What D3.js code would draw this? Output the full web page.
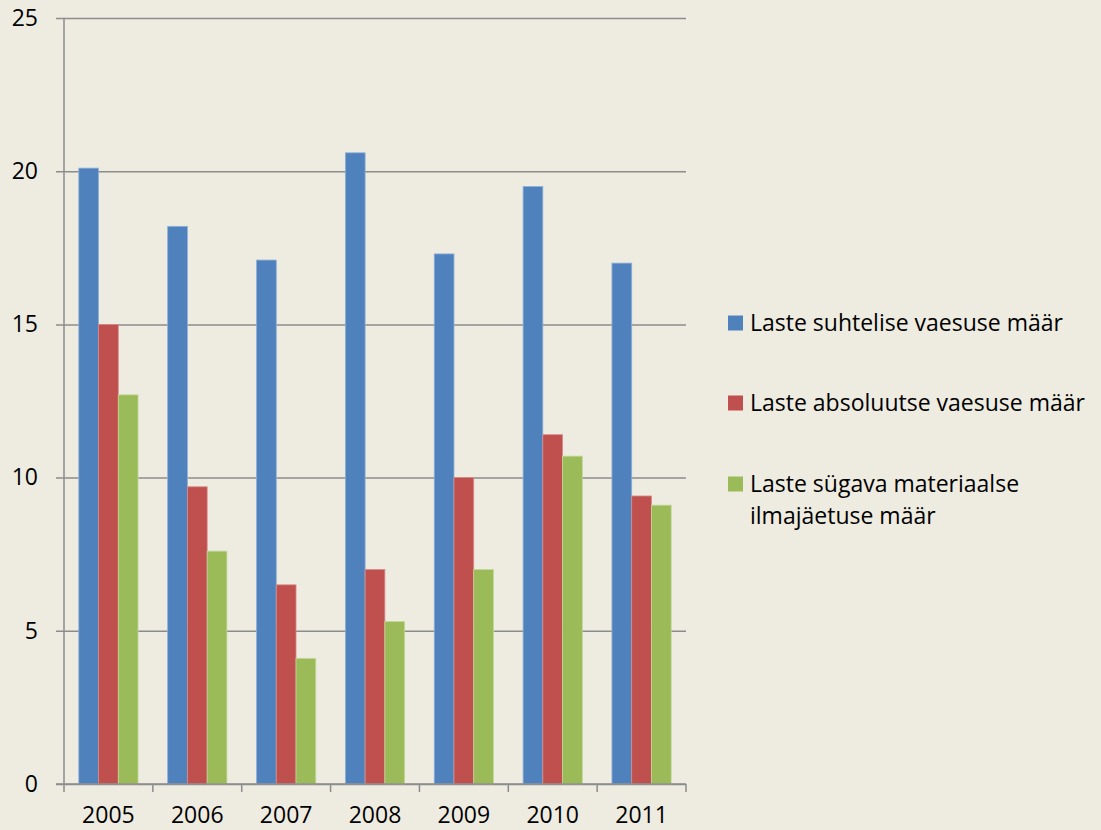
<!DOCTYPE html>
<html>
<head>
<meta charset="utf-8">
<script src="https://cdn.jsdelivr.net/npm/d3@7"></script>
<style>
  html, body { margin: 0; padding: 0; background: #eeebe0; }
  svg { display: block; font-family: "Open Sans", sans-serif; }
</style>
</head>
<body>
<div id="chart"></div>
<script>
const years = ["2005", "2006", "2007", "2008", "2009", "2010", "2011"];
const seriesNames = [
  "Laste suhtelise vaesuse määr",
  "Laste absoluutse vaesuse määr",
  "Laste sügava materiaalse ilmajäetuse määr"
];
const relative = [20.1, 18.2, 17.1, 20.6, 17.3, 19.5, 17.0];
const absolute = [15.0, 9.7, 6.5, 7.0, 10.0, 11.4, 9.4];
const deprivation = [12.7, 7.6, 4.1, 5.3, 7.0, 10.7, 9.1];
const yTicks = [0, 5, 10, 15, 20, 25];

const colors = ["#4f81bd", "#c0504d", "#9bbb59"];
const strokes = ["#8fb0d8", "#d88c8a", "#c2d79a"];

const width = 1101, height = 830;
const margin = { top: 18, right: 415, bottom: 46, left: 64 };
const plotW = width - margin.left - margin.right;
const plotH = height - margin.top - margin.bottom;

const svg = d3.select("#chart")
  .append("svg")
    .attr("width", width)
    .attr("height", height);

svg.append("rect")
  .attr("width", width)
  .attr("height", height)
  .attr("fill", "#eeebe0");

const g = svg.append("g")
  .attr("transform", "translate(" + margin.left + "," + margin.top + ")");

const x = d3.scaleBand()
  .domain(years)
  .range([0, plotW])
  .paddingInner(1 / 3)
  .paddingOuter(1 / 6);

const xSub = d3.scaleBand()
  .domain(d3.range(3))
  .range([0, x.bandwidth()]);

const y = d3.scaleLinear()
  .domain([0, 25])
  .range([plotH, 0]);

// gridlines with outward ticks
g.append("g")
  .call(d3.axisLeft(y).tickValues(yTicks).tickSize(-plotW).tickSizeOuter(0).tickFormat(""))
  .call(s => s.select(".domain").remove())
  .call(s => s.selectAll("line").attr("stroke", "#8c8c8c").attr("stroke-width", 1.5).attr("x1", -8).attr("x2", plotW));

// y labels
g.append("g")
  .call(d3.axisLeft(y).tickValues(yTicks).tickSize(0).tickPadding(26))
  .call(s => s.select(".domain").remove())
  .call(s => s.selectAll("text")
    .attr("fill", "#000")
    .style("font-size", "23px")
    .style("font-family", "'Open Sans', sans-serif"));

// bars
const data = [relative, absolute, deprivation];
const groups = g.selectAll(".year")
  .data(years)
  .enter()
  .append("g")
    .attr("transform", d => "translate(" + x(d) + ",0)");

groups.selectAll("rect")
  .data((d, i) => data.map((s, k) => ({ k: k, v: s[i] })))
  .enter()
  .append("rect")
    .attr("x", d => xSub(d.k))
    .attr("width", xSub.bandwidth())
    .attr("y", d => y(d.v))
    .attr("height", d => plotH - y(d.v))
    .attr("fill", d => colors[d.k])
    .attr("stroke", d => strokes[d.k])
    .attr("stroke-width", 0.8);

// left vertical axis line
g.append("line")
  .attr("x1", 0).attr("x2", 0)
  .attr("y1", 0).attr("y2", plotH)
  .attr("stroke", "#8c8c8c")
  .attr("stroke-width", 1.5);

// x axis
const xAxisG = g.append("g")
  .attr("transform", "translate(0," + plotH + ")");

xAxisG.append("line")
  .attr("x1", -8).attr("x2", plotW)
  .attr("stroke", "#8c8c8c")
  .attr("stroke-width", 1.5);

const tickXs = years.map(d => x(d) - x.step() * x.paddingInner() / 2).concat([plotW]);
xAxisG.selectAll(".xt")
  .data(tickXs)
  .enter()
  .append("line")
    .attr("x1", d => d).attr("x2", d => d)
    .attr("y1", 0).attr("y2", 8)
    .attr("stroke", "#8c8c8c")
    .attr("stroke-width", 1.5);

xAxisG.selectAll(".xl")
  .data(years)
  .enter()
  .append("text")
    .attr("x", d => x(d) + x.bandwidth() / 2)
    .attr("y", 39)
    .attr("text-anchor", "middle")
    .style("font-size", "23px")
    .attr("fill", "#000")
    .text(d => d);

// legend
const legend = svg.append("g")
  .attr("transform", "translate(728,0)");

const legendLines = [
  ["Laste suhtelise vaesuse määr"],
  ["Laste absoluutse vaesuse määr"],
  ["Laste sügava materiaalse", "ilmajäetuse määr"]
];
const legendY = [323, 403, 484];

legendLines.forEach((lines, i) => {
  legend.append("rect")
    .attr("x", 0)
    .attr("y", legendY[i] - 7.5)
    .attr("width", 15)
    .attr("height", 15)
    .attr("fill", colors[i]);
  const t = legend.append("text")
    .attr("x", 22)
    .attr("y", legendY[i])
    .style("font-size", "23px")
    .attr("fill", "#000");
  lines.forEach((l, j) => {
    t.append("tspan")
      .attr("x", 22)
      .attr("dy", j === 0 ? "0.35em" : "1.37em")
      .text(l);
  });
});
</script>
</body>
</html>
